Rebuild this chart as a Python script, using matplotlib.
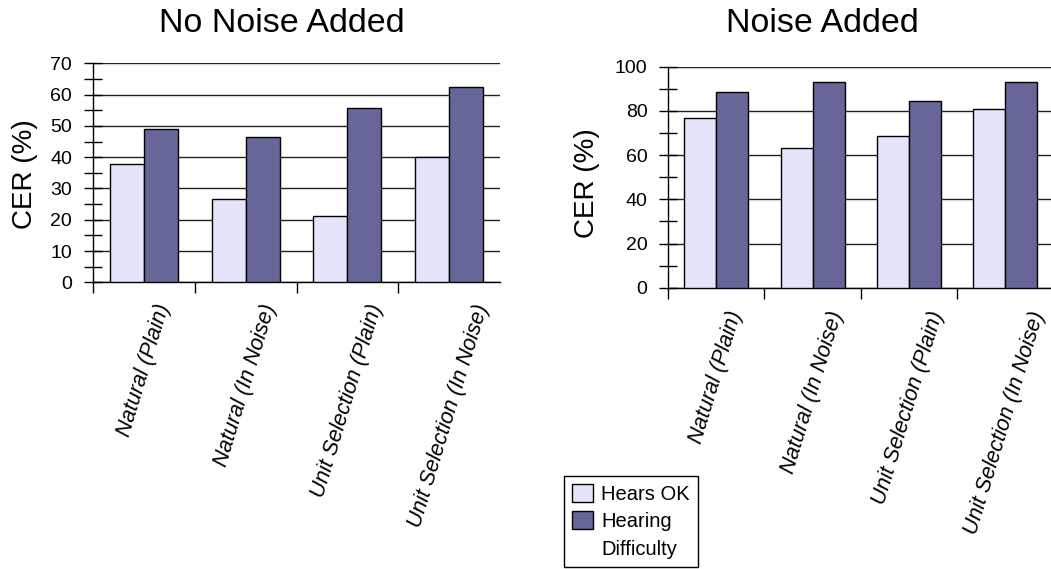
import matplotlib
matplotlib.use("Agg")
import matplotlib.pyplot as plt
import numpy as np
from matplotlib.patches import Patch

plt.rcParams['font.family'] = ['Liberation Sans', 'DejaVu Sans']

categories = ["Natural (Plain)", "Natural (In Noise)", "Unit Selection (Plain)", "Unit Selection (In Noise)"]
legend_labels = ["Hears OK", "Hearing", "Difficulty"]
no_noise_ok = [37.8, 26.6, 21.1, 40.0]
no_noise_hd = [48.9, 46.6, 55.6, 62.3]
noise_ok = [76.6, 63.2, 68.8, 80.9]
noise_hd = [88.7, 93.1, 84.3, 93.1]
titles = ["No Noise Added", "Noise Added"]
ylabel = "CER (%)"

c_ok = "#E4E4FA"
c_hd = "#666699"

W, H = 1051, 569
fig = plt.figure(figsize=(W / 100, H / 100), dpi=100)

def px_axes(x0, y_top, x1, y_bot):
    return fig.add_axes([x0 / W, 1 - y_bot / H, (x1 - x0) / W, (y_bot - y_top) / H])

ax1 = px_axes(93, 63.3, 500, 282.3)
ax2 = px_axes(668.3, 66.7, 1053, 287.7)

def draw(ax, ok, hd, ymax, major, minor, pad):
    x = np.arange(len(categories))
    bw = 1 / 3
    ax.bar(x - bw / 2, ok, width=bw, color=c_ok, edgecolor="black", linewidth=1, zorder=3)
    ax.bar(x + bw / 2, hd, width=bw, color=c_hd, edgecolor="black", linewidth=1, zorder=3)
    ax.set_xlim(-0.5, len(categories) - 0.5)
    ax.set_ylim(0, ymax)
    ax.set_yticks(np.arange(0, ymax + 0.1, major))
    ax.set_yticks(np.arange(0, ymax + 0.1, minor), minor=True)
    ax.yaxis.grid(True, which="major", color="#222222", linewidth=1, zorder=0)
    ax.set_axisbelow(True)
    ax.tick_params(axis="y", which="both", direction="inout", length=13, width=1,
                   labelsize=14, pad=8.5)
    ax.set_xticks(x)
    ax.set_xticklabels(categories, rotation=73, fontsize=15.5, style="italic")
    ax.set_xticks(np.arange(len(categories)) - 0.5, minor=True)
    ax.tick_params(axis="x", which="major", length=0, pad=pad)
    ax.tick_params(axis="x", which="minor", direction="out", length=8, width=1)
    for s in ["top", "right"]:
        ax.spines[s].set_visible(False)
    for s in ["left", "bottom"]:
        ax.spines[s].set_color("black")
        ax.spines[s].set_linewidth(1)

draw(ax1, no_noise_ok, no_noise_hd, 70, 10, 5, 14)
draw(ax2, noise_ok, noise_hd, 100, 20, 10, 15)

fig.text(282 / W, 1 - 32.5 / H, titles[0], fontsize=24.5, ha="center", va="baseline")
fig.text(822 / W, 1 - 32.5 / H, titles[1], fontsize=24.5, ha="center", va="baseline")
fig.text(25 / W, 1 - 174 / H, ylabel, fontsize=20, rotation=90, ha="center", va="center")
fig.text(587 / W, 1 - 183 / H, ylabel, fontsize=20, rotation=90, ha="center", va="center")

handles = [Patch(facecolor=c_ok, edgecolor="black", linewidth=1),
           Patch(facecolor=c_hd, edgecolor="black", linewidth=1),
           Patch(facecolor="none", edgecolor="none", linewidth=0)]
leg = fig.legend(handles, legend_labels, loc="lower left",
                 bbox_to_anchor=(564 / W, 1 - 566.7 / H), fontsize=14.5,
                 frameon=True, fancybox=False, shadow=False, framealpha=1,
                 edgecolor="black", borderpad=0.4, handlelength=1.05,
                 handleheight=1.0, handletextpad=0.4, labelspacing=0.38,
                 borderaxespad=0)
leg.get_frame().set_linewidth(1)

fig.savefig("out.png", dpi=100)
